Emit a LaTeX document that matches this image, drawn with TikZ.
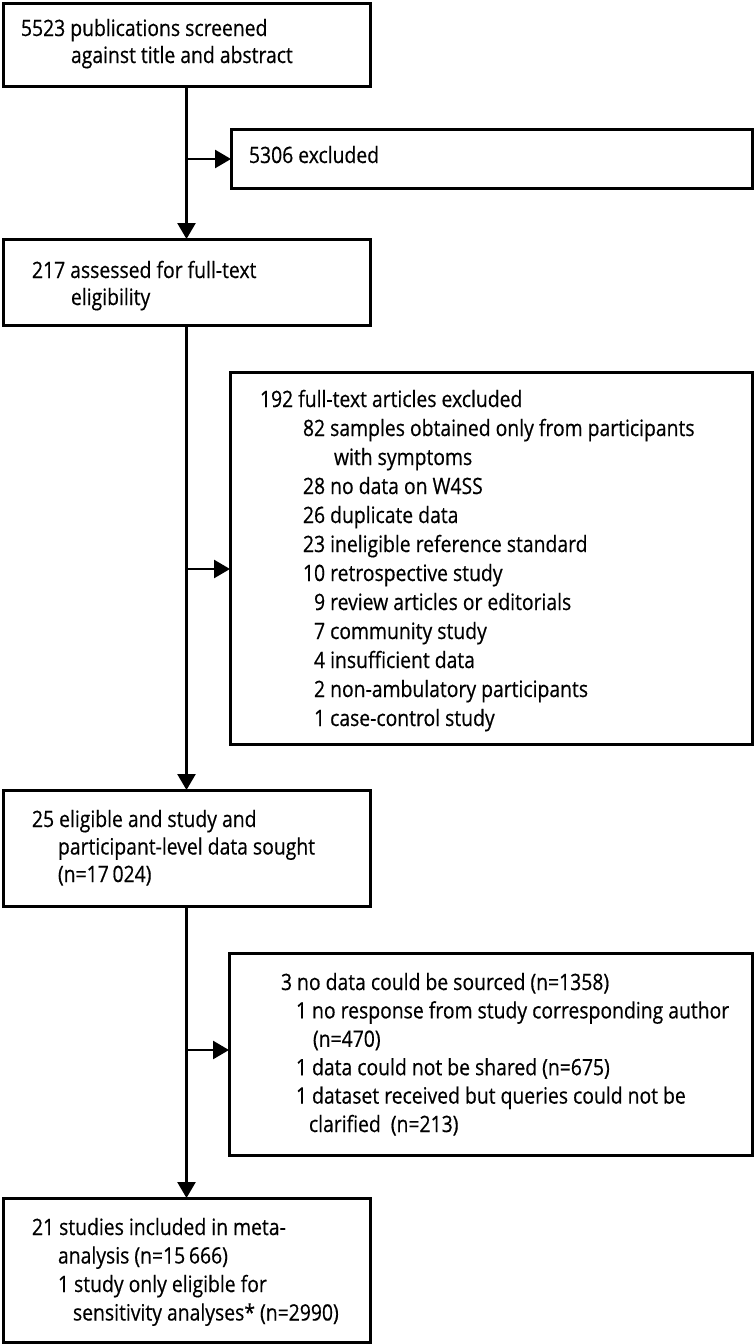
\documentclass[tikz,border=0pt]{standalone}
\usepackage{fontspec}
\setmainfont[FakeStretch=0.86,FakeBold=0.5]{Open Sans}
\usetikzlibrary{arrows.meta}
\newcommand\ind[1]{\hspace*{#1pt}}
\newcommand\boxtext[2]{\parbox[t]{640pt}{\raggedright\fontsize{22.5}{#1}\selectfont #2}}
\tikzset{
  frame/.style={draw=black, line width=3pt, inner sep=0pt, outer sep=0pt, anchor=north west},
  label text/.style={anchor=base west, inner sep=0pt, outer sep=0pt, text=black},
  flow/.style={draw=black, line width=2.6pt, -{Triangle[length=16pt,width=18pt]}},
  trunk/.style={draw=black, line width=2.6pt}
}
\begin{document}
\begin{tikzpicture}[x=1pt,y=-1pt]
\useasboundingbox (0,0) rectangle (755,1344);
% boxes
\node[frame, minimum width=367pt, minimum height=83pt] (b1) at (3,3) {};
\node[frame, minimum width=521pt, minimum height=59pt] (ex1) at (231,129) {};
\node[frame, minimum width=367pt, minimum height=86pt] (b2) at (3,239) {};
\node[frame, minimum width=522pt, minimum height=372pt] (ex2) at (230,372) {};
\node[frame, minimum width=367pt, minimum height=116pt] (b3) at (3,790) {};
\node[frame, minimum width=523pt, minimum height=202pt] (ex3) at (229,953) {};
\node[frame, minimum width=367pt, minimum height=144pt] (b4) at (3,1198) {};
% texts
\node[label text] (t1) at (21,36) {\boxtext{27}{5523 publications screened\\\ind{50}against title and abstract}};
\node[label text] (tx1) at (249,163) {\boxtext{27}{5306 excluded}};
\node[label text] (t2) at (32,278) {\boxtext{27}{217 assessed for full-text\\\ind{39}eligibility}};
\node[label text] (tx2) at (260,407) {\boxtext{29}{192 full-text articles excluded\\
\ind{43}82 samples obtained only from participants\\
\ind{74}with symptoms\\
\ind{43}28 no data on W4SS\\
\ind{43}26 duplicate data\\
\ind{43}23 ineligible reference standard\\
\ind{43}10 retrospective study\\
\ind{43}\phantom{0}9 review articles or editorials\\
\ind{43}\phantom{0}7 community study\\
\ind{43}\phantom{0}4 insufficient data\\
\ind{43}\phantom{0}2 non-ambulatory participants\\
\ind{43}\phantom{0}1 case-control study}};
\node[label text] (t3) at (32,827) {\boxtext{27.5}{25 eligible and study and\\
\ind{26}participant-level data sought\\
\ind{26}(n=17\,024)}};
\node[label text] (tx3) at (281,990) {\boxtext{28.4}{3 no data could be sourced (n=1358)\\
\ind{15}1 no response from study corresponding author\\
\ind{32}(n=470)\\
\ind{15}1 data could not be shared (n=675)\\
\ind{15}1 dataset received but queries could not be\\
\ind{28}clarified\ \ (n=213)}};
\node[label text] (t4) at (32,1235) {\boxtext{28.5}{21 studies included in meta-\\
\ind{26}analysis (n=15\,666)\\
\ind{26}1 study only eligible for\\
\ind{41}sensitivity analyses* (n=2990)}};
% connectors
\coordinate (j1) at (b1.south |- 0,159);
\coordinate (j2) at (b1.south |- 0,569);
\coordinate (j3) at (b1.south |- 0,1050);
\draw[flow] (b1.south) -- (b2.north);
\draw[flow] (b2.south) -- (b3.north);
\draw[flow] (b3.south) -- (b4.north);
\draw[flow] (j1) -- (j1 -| ex1.west);
\draw[flow] (j2) -- (j2 -| ex2.west);
\draw[flow] (j3) -- (j3 -| ex3.west);
\end{tikzpicture}
\end{document}
